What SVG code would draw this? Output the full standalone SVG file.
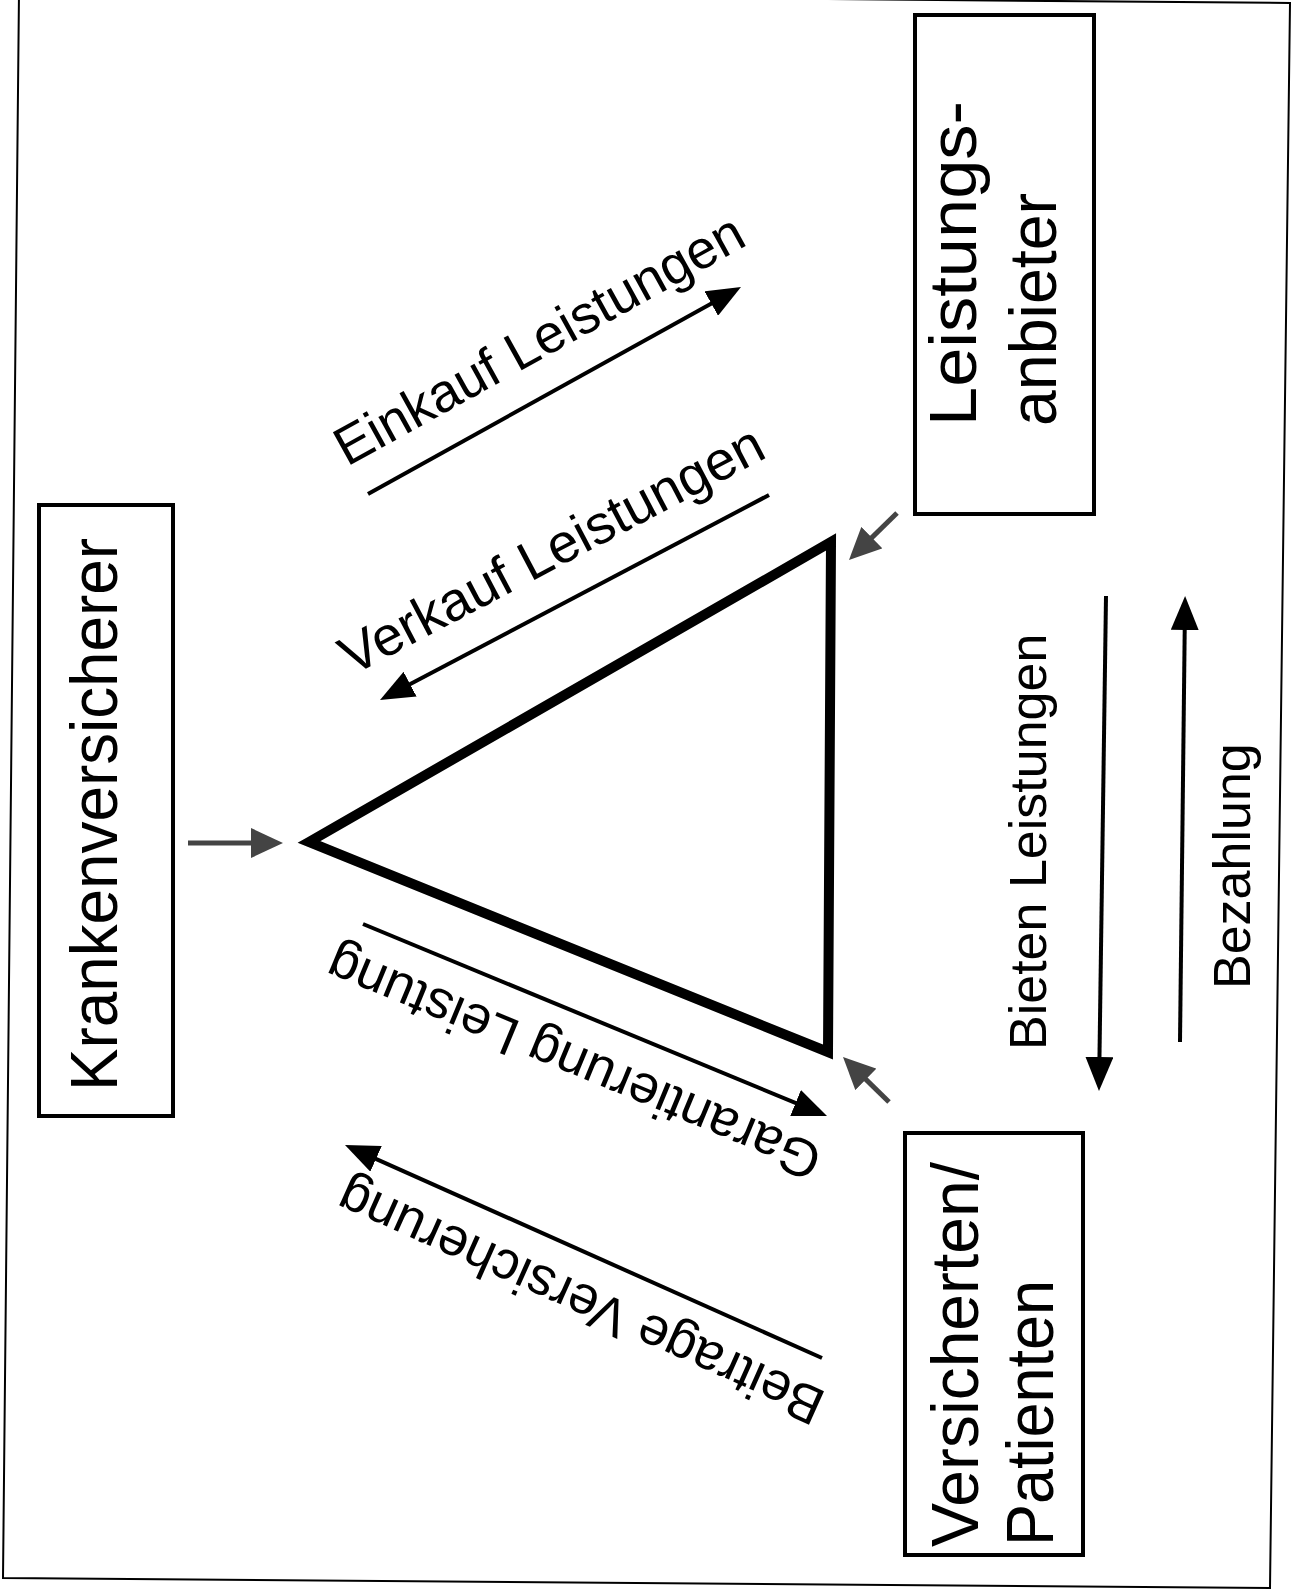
<svg xmlns="http://www.w3.org/2000/svg" width="1294" height="1591" viewBox="0 0 1294 1591">
<defs>
<style>
.lbl{font-family:"Liberation Sans",Arial,Helvetica,sans-serif;fill:#000}
.big{font-size:66px}
.mid{font-size:52px}
.box{fill:none;stroke:#000;stroke-width:4}
.blk{stroke:#000;stroke-width:4;fill:none}
.gry{stroke:#444;stroke-width:5;fill:none}
</style>
<marker id="ah" viewBox="0 0 34 28" markerUnits="userSpaceOnUse" markerWidth="34" markerHeight="28" refX="26" refY="14" orient="auto">
<path d="M0,0 L34,14 L0,28 Z" fill="#000"/>
</marker>
<marker id="gh" viewBox="0 0 32 30" markerUnits="userSpaceOnUse" markerWidth="32" markerHeight="30" refX="24" refY="15" orient="auto">
<path d="M0,0 L32,15 L0,30 Z" fill="#444"/>
</marker>
</defs>
<rect width="1294" height="1591" fill="#fff"/>
<polygon points="19,-8 1290,3 1270,1588 3,1578" fill="none" stroke="#000" stroke-width="2"/>

<g id="krankenversicherer">
<rect class="box" x="39" y="505" width="134" height="611"/>
<text class="lbl big" transform="translate(117,1091) rotate(-90)" textLength="553" lengthAdjust="spacingAndGlyphs">Krankenversicherer</text>
</g>
<g id="leistungsanbieter">
<rect class="box" x="915" y="15" width="179" height="499"/>
<text class="lbl big" transform="translate(976,426) rotate(-90)" textLength="325" lengthAdjust="spacingAndGlyphs">Leistungs-</text>
<text class="lbl big" transform="translate(1056,426) rotate(-90)" textLength="233" lengthAdjust="spacingAndGlyphs">anbieter</text>
</g>
<g id="versicherten">
<rect class="box" x="905" y="1133" width="178" height="422"/>
<text class="lbl big" transform="translate(978,1547) rotate(-90)" textLength="385" lengthAdjust="spacingAndGlyphs">Versicherten/</text>
<text class="lbl big" transform="translate(1053,1546) rotate(-90)" textLength="266" lengthAdjust="spacingAndGlyphs">Patienten</text>
</g>
<g id="dreieck">
<polygon points="309,842 831,542 828,1052" fill="none" stroke="#000" stroke-width="10" stroke-linejoin="miter"/>
</g>

<g id="connectors">
<line class="gry" x1="188" y1="843" x2="275" y2="843" marker-end="url(#gh)"/>
<line class="gry" x1="897" y1="513" x2="854.7" y2="554.4" marker-end="url(#gh)"/>
<line class="gry" x1="889" y1="1102" x2="848.7" y2="1062.6" marker-end="url(#gh)"/>
<line class="blk" x1="368" y1="494" x2="734" y2="290.9" marker-end="url(#ah)"/>
<line class="blk" x1="769" y1="495" x2="387.1" y2="696.3" stroke-width="3" marker-end="url(#ah)"/>
<line class="blk" x1="363" y1="924" x2="819.6" y2="1112.9" marker-end="url(#ah)"/>
<line class="blk" x1="822" y1="1358" x2="352.3" y2="1148.3" marker-end="url(#ah)"/>
<line class="blk" x1="1106" y1="596" x2="1099.1" y2="1083" marker-end="url(#ah)"/>
<line class="blk" x1="1180" y1="1042" x2="1185" y2="604" marker-end="url(#ah)"/>
</g>

<g id="labels">
<text class="lbl mid" style="font-size:54px" transform="translate(347,467) rotate(-29)">Einkauf Leistungen</text>
<text class="lbl mid" style="font-size:55px" transform="translate(352,676) rotate(-27.8)">Verkauf Leistungen</text>
<text class="lbl mid" style="font-size:53.5px" transform="translate(825,1148) rotate(202.5)">Garantierung Leistung</text>
<text class="lbl mid" style="font-size:53.5px" transform="translate(828,1393) rotate(204.1)">Beitrage Versicherung</text>
<text class="lbl mid" transform="translate(1046,1050) rotate(-90)">Bieten Leistungen</text>
<text class="lbl mid" transform="translate(1250,989) rotate(-90)">Bezahlung</text>
</g>
</svg>
